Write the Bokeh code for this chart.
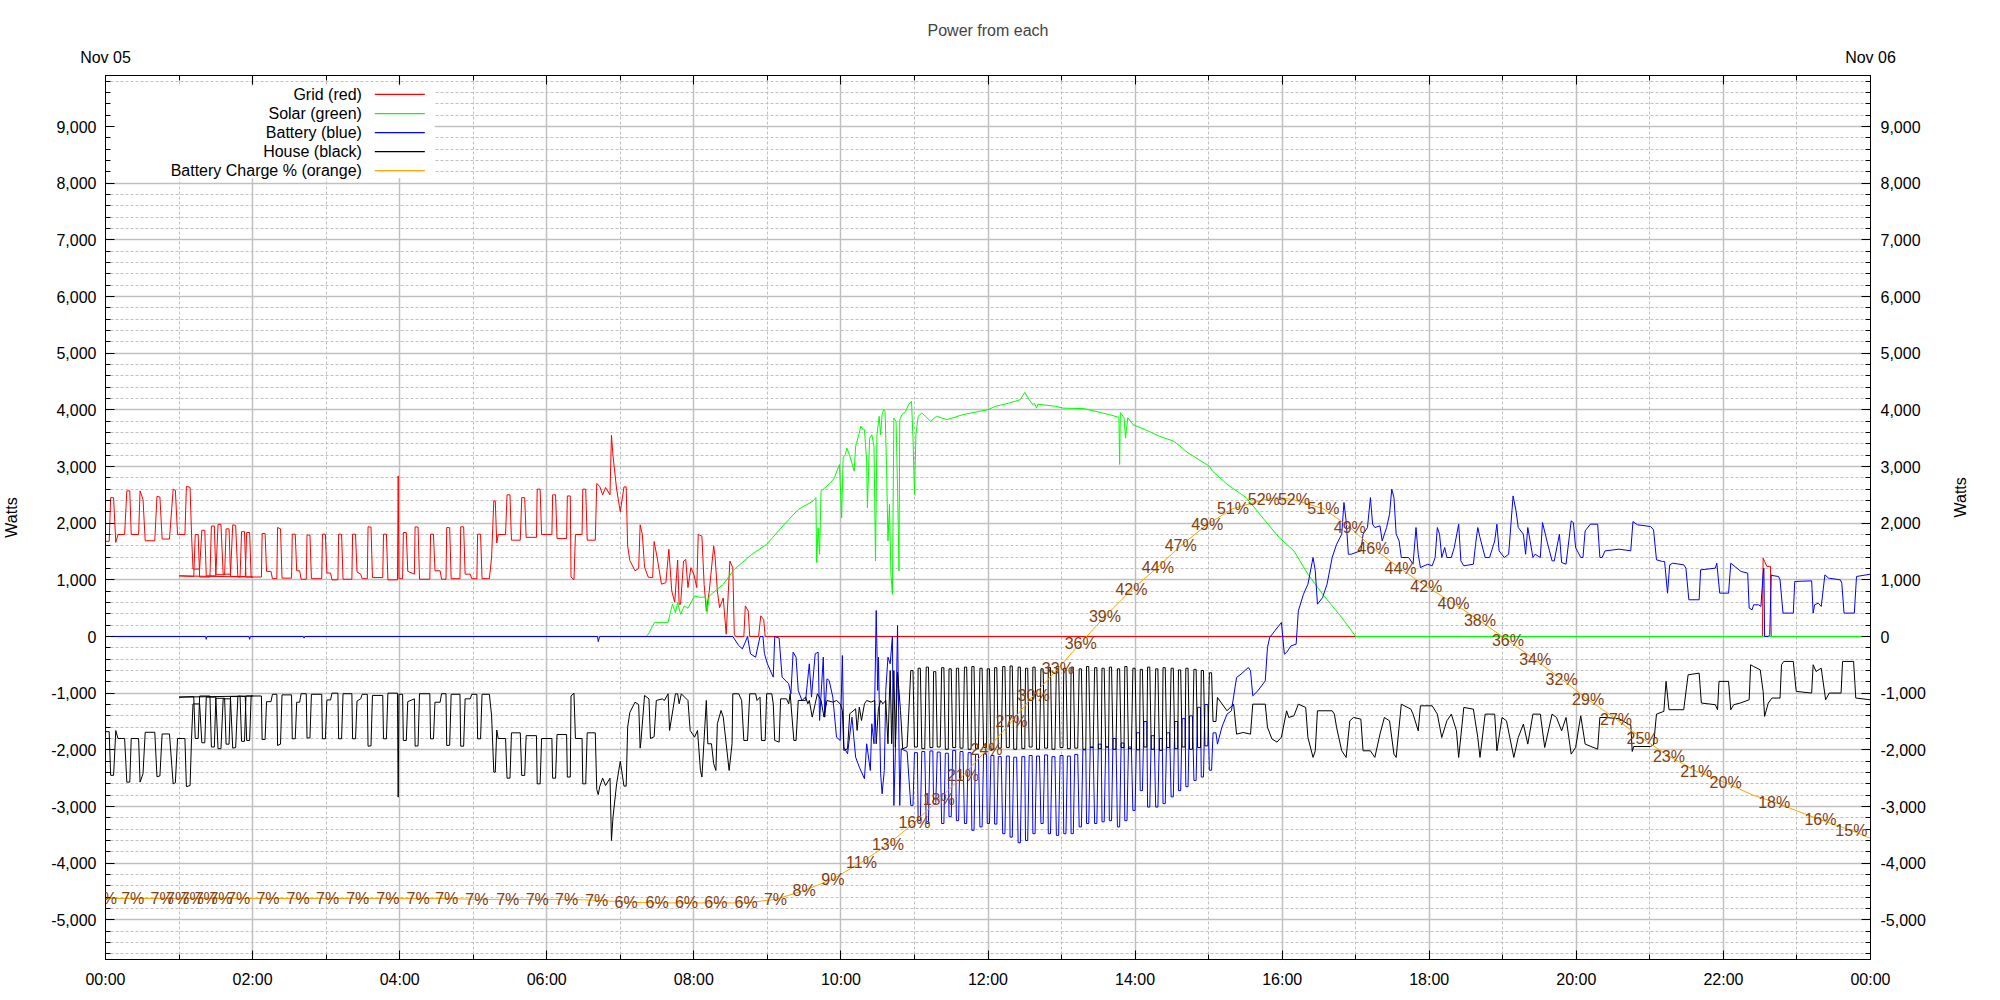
import math
from bokeh.plotting import figure
from bokeh.models import Range1d, LinearAxis, FixedTicker, NumeralTickFormatter, LabelSet, ColumnDataSource
from bokeh.core.properties import value
from bokeh.embed import file_html
from bokeh.resources import INLINE

FONT = "Liberation Sans"

# ---------------- data (time in hours since Nov 05 00:00, values in watts) ----------------
# DST ended this night: the 01:00-02:00 hour appears twice (jump back at 02:00)
grid = [
    (0.00, 1680), (0.05, 1680), (0.07, 2450), (0.11, 2450), (0.14, 1660), (0.17, 1800), (0.26, 1800),
    (0.29, 2570), (0.33, 2570), (0.35, 1800), (0.45, 1800), (0.47, 2570), (0.51, 2420), (0.54, 1690),
    (0.67, 1690), (0.70, 2475), (0.74, 2460), (0.77, 1720), (0.87, 1720), (0.92, 2600), (0.95, 2580),
    (0.98, 1800), (1.08, 1800), (1.10, 2650), (1.15, 2630), (1.17, 1800), (1.19, 1190), (1.28, 1190),
    (1.31, 1875), (1.35, 1875), (1.37, 1070), (1.50, 1070), (1.53, 1980), (1.57, 1980), (1.60, 1100),
    (1.70, 1100), (1.73, 1970), (1.77, 1960), (1.80, 1050), (1.90, 1060), (1.92, 1835), (1.96, 1835),
    (1.98, 1050), (2.00, 1050),
    (1.00, 1070), (1.20, 1060), (1.22, 1800), (1.26, 1800), (1.28, 1050), (1.42, 1050), (1.44, 1950),
    (1.48, 1950), (1.50, 1090), (1.62, 1090), (1.64, 1900), (1.68, 1900), (1.70, 1060), (1.83, 1060),
    (1.85, 1850), (1.89, 1850), (1.91, 1050), (2.12, 1050),
    (2.13, 1817), (2.17, 1817), (2.19, 1150), (2.25, 1150), (2.27, 1020), (2.33, 1020), (2.34, 1923),
    (2.38, 1900), (2.40, 1030), (2.53, 1030), (2.54, 1805), (2.58, 1805), (2.60, 1160), (2.64, 1160),
    (2.66, 1010), (2.73, 1010), (2.74, 1790), (2.78, 1790), (2.80, 1020), (2.94, 1020), (2.95, 1805),
    (2.99, 1805), (3.01, 1120), (3.06, 1120), (3.08, 1000), (3.16, 1000), (3.17, 1805), (3.21, 1805),
    (3.23, 1010), (3.35, 1010), (3.36, 1805), (3.40, 1805), (3.42, 1140), (3.47, 1100), (3.49, 1020),
    (3.56, 1020), (3.57, 1935), (3.61, 1930), (3.63, 1040), (3.77, 1040), (3.78, 1805), (3.82, 1805),
    (3.84, 1000), (3.97, 1000), (3.98, 2835), (3.99, 1020), (4.04, 1020), (4.05, 1835), (4.09, 1835),
    (4.11, 1150), (4.20, 1100), (4.21, 1935), (4.25, 1930), (4.27, 1010), (4.41, 1010), (4.42, 1805),
    (4.46, 1805), (4.48, 1160), (4.55, 1160), (4.57, 1010), (4.63, 1010), (4.64, 1923), (4.68, 1920),
    (4.70, 1020), (4.82, 1020), (4.83, 1935), (4.87, 1935), (4.89, 1100), (4.96, 1100), (4.98, 1020),
    (5.05, 1020), (5.06, 1805), (5.10, 1805), (5.12, 1020), (5.22, 1020), (5.25, 1400), (5.28, 2394),
    (5.30, 2394), (5.32, 1650), (5.34, 1800), (5.44, 1800), (5.46, 2500), (5.50, 2500), (5.52, 1700),
    (5.64, 1700), (5.66, 2452), (5.70, 2450), (5.72, 1750), (5.86, 1750), (5.87, 2600), (5.91, 2600),
    (5.93, 1800), (6.07, 1800), (6.08, 2500), (6.12, 2500), (6.14, 1730), (6.27, 1730), (6.28, 2480),
    (6.32, 2480), (6.33, 1050), (6.37, 1000), (6.39, 1800), (6.48, 1800), (6.49, 2600), (6.53, 2600),
    (6.55, 1700), (6.66, 1700), (6.68, 2700), (6.72, 2650), (6.76, 2500), (6.80, 2630), (6.86, 2500),
    (6.88, 3550), (6.90, 3200), (6.95, 2600), (7.00, 2200), (7.05, 2640), (7.08, 2640), (7.10, 1600),
    (7.13, 1340), (7.20, 1160), (7.25, 1200), (7.27, 1970), (7.30, 1800), (7.33, 1223), (7.38, 1047),
    (7.44, 1040), (7.46, 1676), (7.50, 1400), (7.56, 923), (7.62, 950), (7.66, 1540), (7.70, 800),
    (7.74, 605), (7.78, 1350), (7.80, 570), (7.82, 570), (7.86, 1330), (7.89, 1360), (7.92, 863),
    (7.96, 1215), (8.00, 1100), (8.04, 863), (8.06, 1800), (8.11, 1770), (8.14, 920), (8.17, 450),
    (8.21, 800), (8.27, 1600), (8.29, 1390), (8.32, 800), (8.35, 510), (8.40, 680), (8.44, 40),
    (8.49, 1330), (8.53, 1215), (8.55, 40), (8.57, 0), (8.68, 0), (8.70, 540), (8.74, 450), (8.76, 0),
    (8.88, 0), (8.91, 364), (8.95, 300), (8.97, 0), (22.53, 0), (22.54, 1383), (22.56, 1326),
    (22.59, 1238), (22.64, 1238), (22.65, 0), (24.00, 0),
]

solar = [
    (7.30, 0), (7.35, 0), (7.39, 60), (7.44, 190), (7.47, 250), (7.65, 250), (7.68, 420), (7.71, 570),
    (7.75, 420), (7.78, 600), (7.82, 393), (7.87, 540), (7.92, 500), (8.01, 716), (8.09, 690),
    (8.16, 700), (8.18, 423), (8.21, 716), (8.40, 922), (8.55, 1186), (8.79, 1450), (8.99, 1626),
    (9.23, 1978), (9.42, 2242), (9.62, 2389), (9.66, 2450), (9.67, 1303), (9.69, 1920), (9.71, 1450),
    (9.73, 2565), (9.86, 2712), (9.91, 2800), (9.98, 3035), (10.01, 2095), (10.03, 3152), (10.06, 3210),
    (10.08, 3328), (10.13, 3152), (10.18, 2917), (10.20, 3358), (10.25, 3592), (10.27, 3710),
    (10.30, 3650), (10.32, 3650), (10.35, 3094), (10.36, 2272), (10.39, 3500), (10.42, 3560),
    (10.45, 3358), (10.47, 1332), (10.49, 3560), (10.52, 3886), (10.54, 3560), (10.56, 3915),
    (10.58, 4003), (10.60, 3974), (10.62, 3035), (10.64, 1685), (10.66, 2330), (10.68, 1098),
    (10.70, 745), (10.72, 3856), (10.75, 3798), (10.77, 2620), (10.79, 1156), (10.80, 3827),
    (10.83, 3915), (10.88, 3974), (10.92, 4091), (10.94, 4120), (10.96, 4150), (10.98, 3500),
    (11.00, 2506), (11.02, 3560), (11.05, 3886), (11.10, 3945), (11.15, 3886), (11.22, 3798),
    (11.30, 3886), (11.37, 3856), (11.44, 3827), (11.66, 3915), (12.00, 4003), (12.10, 4062),
    (12.29, 4120), (12.44, 4180), (12.50, 4308), (12.56, 4180), (12.61, 4090), (12.63, 4120),
    (12.66, 4030), (12.68, 4100), (12.92, 4062), (13.02, 4030), (13.31, 4021), (13.41, 3990),
    (13.65, 3915), (13.78, 3868), (13.79, 3035), (13.80, 3950), (13.85, 3860), (13.87, 3500),
    (13.90, 3860), (13.97, 3739), (14.14, 3650), (14.33, 3534), (14.53, 3445), (14.72, 3240),
    (15.01, 3005), (15.05, 2922), (15.25, 2687), (15.51, 2452), (15.77, 2040), (15.96, 1746),
    (16.16, 1511), (16.35, 1100), (16.55, 747), (16.81, 335), (17.00, 0), (24.00, 0),
]

battery = [
    (0.00, 0), (1.36, 0), (1.37, -50), (1.38, 0), (1.95, 0), (1.96, -50), (1.97, 0), (2.69, 0),
    (2.70, -30), (2.71, 0), (6.69, 0), (6.70, -90), (6.72, 0), (8.53, 0), (8.61, -159), (8.66, -218),
    (8.70, -100), (8.73, 0), (8.77, -306), (8.84, -365), (8.90, 0), (8.94, 0), (8.96, -300),
    (9.00, -482), (9.08, -717), (9.10, 0), (9.16, -30), (9.20, -717), (9.29, -835), (9.32, -1011),
    (9.35, -276), (9.39, -365), (9.42, -953), (9.47, -1129), (9.52, -1129), (9.57, -482), (9.60, -1070),
    (9.65, -306), (9.69, -276), (9.71, -1482), (9.76, -365), (9.78, -1423), (9.81, -747), (9.84, -776),
    (9.89, -1070), (9.94, -1776), (9.99, -1835), (10.02, -335), (10.04, -1952), (10.09, -2070),
    (10.15, -1423), (10.20, -2129), (10.25, -2305), (10.32, -2510), (10.35, -1893), (10.40, -2364),
    (10.42, -1540), (10.45, -1893), (10.48, 459), (10.50, -952), (10.51, -365), (10.54, -2423),
    (10.56, -2775), (10.59, -2364), (10.61, -952), (10.64, -365), (10.67, -482), (10.70, 0),
    (10.72, -2981), (10.74, -2070), (10.77, 194), (10.80, -2981), (10.82, -1982), (10.90, -2030),
    (10.95, -2980), (10.98, -2980), (11.00, -2050), (11.04, -2050),
    (11.05, -3250), (11.08, -3250), (11.10, -2030), (11.14, -2030),
    (11.16, -3300), (11.19, -3300), (11.21, -2020), (11.25, -2020),
    (11.26, -2950), (11.29, -2950), (11.31, -2040), (11.35, -2040),
    (11.37, -3300), (11.40, -3300), (11.42, -2060), (11.46, -2060),
    (11.47, -3180), (11.50, -3180), (11.52, -2010), (11.56, -2010),
    (11.57, -3250), (11.60, -3250), (11.62, -2030), (11.66, -2030),
    (11.68, -3300), (11.71, -3300), (11.73, -2050), (11.77, -2050),
    (11.78, -3420), (11.81, -3420), (11.83, -2080), (11.87, -2080),
    (11.89, -3360), (11.92, -3360), (11.94, -2070), (11.98, -2070),
    (11.99, -3300), (12.02, -3300), (12.04, -2100), (12.08, -2100),
    (12.09, -3310), (12.12, -3310), (12.14, -2120), (12.18, -2120),
    (12.20, -3480), (12.23, -3480), (12.25, -2110), (12.29, -2110),
    (12.30, -3540), (12.33, -3540), (12.35, -2130), (12.39, -2130),
    (12.41, -3640), (12.44, -3640), (12.46, -2120), (12.50, -2120),
    (12.51, -3600), (12.54, -3600), (12.56, -2100), (12.60, -2100),
    (12.61, -3480), (12.64, -3480), (12.66, -2110), (12.70, -2110),
    (12.72, -3300), (12.75, -3300), (12.77, -2090), (12.81, -2090),
    (12.82, -3480), (12.85, -3480), (12.87, -2120), (12.91, -2120),
    (12.93, -3510), (12.96, -3510), (12.98, -2100), (13.02, -2100),
    (13.03, -3480), (13.06, -3480), (13.08, -2110), (13.12, -2110),
    (13.13, -3480), (13.16, -3480), (13.18, -2080), (13.22, -2080),
    (13.24, -3360), (13.27, -3360), (13.29, -2000), (13.33, -2000),
    (13.34, -3300), (13.37, -3300), (13.39, -1950), (13.43, -1950),
    (13.45, -3300), (13.48, -3300), (13.50, -1900), (13.54, -1900),
    (13.55, -3270), (13.58, -3270), (13.60, -1950), (13.64, -1950),
    (13.65, -3250), (13.68, -3250), (13.70, -1800), (13.74, -1800),
    (13.76, -3360), (13.79, -3360), (13.81, -1880), (13.85, -1880),
    (13.86, -3250), (13.89, -3250), (13.91, -1950), (13.95, -1950),
    (13.97, -3070), (14.00, -3070), (14.02, -1700), (14.06, -1700),
    (14.07, -2720), (14.10, -2720), (14.12, -1500), (14.16, -1500),
    (14.17, -3010), (14.20, -3010), (14.22, -1750), (14.26, -1750),
    (14.28, -3010), (14.31, -3010), (14.33, -1800), (14.37, -1800),
    (14.38, -2950), (14.41, -2950), (14.43, -1700), (14.47, -1700),
    (14.49, -2830), (14.52, -2830), (14.54, -1500), (14.58, -1500),
    (14.59, -2720), (14.62, -2720), (14.64, -1450), (14.68, -1450),
    (14.69, -2650), (14.72, -2650), (14.74, -1400), (14.78, -1400),
    (14.80, -2540), (14.83, -2540), (14.85, -1250), (14.89, -1250),
    (14.90, -2480), (14.93, -2480), (14.95, -1200), (14.99, -1200),
    (15.01, -2360), (15.04, -2360), (15.06, -1700), (15.10, -1700),
    (15.12, -1900), (15.18, -1600), (15.25, -1370), (15.31, -1311), (15.38, -723), (15.44, -664),
    (15.54, -547), (15.57, -605), (15.60, -1047), (15.67, -958), (15.77, -782), (15.80, -194),
    (15.83, -18), (15.90, 100), (15.99, 247), (16.03, -312), (16.06, -282), (16.12, -165),
    (16.19, -135), (16.22, 453), (16.29, 747), (16.35, 923), (16.42, 1394), (16.45, 1160),
    (16.48, 570), (16.55, 688), (16.61, 923), (16.68, 1394), (16.74, 1629), (16.81, 1805),
    (16.84, 2364), (16.87, 2040), (16.90, 1452), (16.94, 1452), (17.00, 1482), (17.07, 1511),
    (17.10, 1805), (17.16, 1923), (17.20, 2452), (17.23, 1982), (17.26, 1923), (17.33, 1952),
    (17.36, 1687), (17.42, 1923), (17.46, 2158), (17.49, 2599), (17.52, 2452), (17.55, 1805),
    (17.59, 1687), (17.62, 1394), (17.72, 1394), (17.78, 1276), (17.82, 1923), (17.85, 1452),
    (17.88, 1217), (17.98, 1276), (18.04, 1247), (18.08, 1394), (18.11, 1923), (18.14, 1805),
    (18.17, 1394), (18.21, 1570), (18.24, 1394), (18.30, 1394), (18.34, 1570), (18.40, 1982),
    (18.43, 1335), (18.47, 1247), (18.60, 1276), (18.63, 1629), (18.66, 1923), (18.69, 1746),
    (18.76, 1394), (18.82, 1394), (18.89, 1687), (18.92, 1982), (18.95, 1511), (19.02, 1394),
    (19.08, 1452), (19.14, 2481), (19.18, 2217), (19.21, 1923), (19.28, 1805), (19.31, 1452),
    (19.34, 1923), (19.41, 1394), (19.44, 1452), (19.51, 1394), (19.54, 2011), (19.60, 1687),
    (19.67, 1335), (19.70, 1335), (19.77, 1805), (19.80, 1305), (19.86, 1276), (19.93, 2040),
    (19.96, 2011), (19.99, 1570), (20.06, 1394), (20.09, 1394), (20.12, 1864), (20.19, 1982),
    (20.29, 1982), (20.32, 1394), (20.35, 1394), (20.39, 1511), (20.58, 1541), (20.74, 1512),
    (20.77, 2029), (20.83, 1971), (21.01, 1941), (21.05, 1882), (21.09, 1353), (21.17, 1324),
    (21.20, 1324), (21.24, 765), (21.27, 1265), (21.31, 1294), (21.46, 1265), (21.49, 1206),
    (21.53, 648), (21.67, 648), (21.69, 1176), (21.89, 1206), (21.91, 1294), (21.95, 765),
    (22.07, 765), (22.10, 1294), (22.24, 1147), (22.33, 1118), (22.35, 501), (22.39, 471),
    (22.41, 559), (22.48, 559), (22.51, 530), (22.54, 1118), (22.55, 1206), (22.56, 0), (22.61, 0),
    (22.63, 30), (22.65, 1088), (22.66, 1077), (22.75, 1059), (22.77, 1000), (22.81, 413),
    (22.95, 413), (22.97, 971), (23.20, 982), (23.22, 413), (23.24, 559), (23.29, 589), (23.33, 530),
    (23.38, 1088), (23.43, 1030), (23.59, 1000), (23.61, 941), (23.64, 413), (23.78, 413),
    (23.81, 1059), (24.00, 1100),
]

house = [
    (0.00, -1680), (0.05, -1680), (0.07, -2450), (0.11, -2450), (0.14, -1660), (0.17, -1800),
    (0.26, -1800), (0.29, -2570), (0.33, -2570), (0.35, -1800), (0.45, -1800), (0.47, -2570),
    (0.51, -2420), (0.54, -1690), (0.67, -1690), (0.70, -2475), (0.74, -2460), (0.77, -1720),
    (0.87, -1720), (0.92, -2600), (0.95, -2580), (0.98, -1800), (1.08, -1800), (1.10, -2650),
    (1.15, -2630), (1.17, -1800), (1.19, -1190), (1.28, -1190), (1.31, -1875), (1.35, -1875),
    (1.37, -1070), (1.50, -1070), (1.53, -1980), (1.57, -1980), (1.60, -1100), (1.70, -1100),
    (1.73, -1970), (1.77, -1960), (1.80, -1050), (1.90, -1060), (1.92, -1835), (1.96, -1835),
    (1.98, -1050), (2.00, -1050),
    (1.00, -1070), (1.20, -1060), (1.22, -1800), (1.26, -1800), (1.28, -1050), (1.42, -1050),
    (1.44, -1950), (1.48, -1950), (1.50, -1090), (1.62, -1090), (1.64, -1900), (1.68, -1900),
    (1.70, -1060), (1.83, -1060), (1.85, -1850), (1.89, -1850), (1.91, -1050), (2.12, -1050),
    (2.13, -1817), (2.17, -1817), (2.19, -1150), (2.25, -1150), (2.27, -1020), (2.33, -1020),
    (2.34, -1923), (2.38, -1900), (2.40, -1030), (2.53, -1030), (2.54, -1805), (2.58, -1805),
    (2.60, -1160), (2.64, -1160), (2.66, -1010), (2.73, -1010), (2.74, -1790), (2.78, -1790),
    (2.80, -1020), (2.94, -1020), (2.95, -1805), (2.99, -1805), (3.01, -1120), (3.06, -1120),
    (3.08, -1000), (3.16, -1000), (3.17, -1805), (3.21, -1805), (3.23, -1010), (3.35, -1010),
    (3.36, -1805), (3.40, -1805), (3.42, -1140), (3.47, -1100), (3.49, -1020), (3.56, -1020),
    (3.57, -1935), (3.61, -1930), (3.63, -1040), (3.77, -1040), (3.78, -1805), (3.82, -1805),
    (3.84, -1000), (3.97, -1000), (3.98, -2835), (3.99, -1020), (4.04, -1020), (4.05, -1835),
    (4.09, -1835), (4.11, -1150), (4.20, -1100), (4.21, -1935), (4.25, -1930), (4.27, -1010),
    (4.41, -1010), (4.42, -1805), (4.46, -1805), (4.48, -1160), (4.55, -1160), (4.57, -1010),
    (4.63, -1010), (4.64, -1923), (4.68, -1920), (4.70, -1020), (4.82, -1020), (4.83, -1935),
    (4.87, -1935), (4.89, -1100), (4.96, -1100), (4.98, -1020), (5.05, -1020), (5.06, -1805),
    (5.10, -1805), (5.12, -1020), (5.22, -1020), (5.25, -1400), (5.28, -2394), (5.30, -2394),
    (5.32, -1650), (5.34, -1800), (5.44, -1800), (5.46, -2500), (5.50, -2500), (5.52, -1700),
    (5.64, -1700), (5.66, -2452), (5.70, -2450), (5.72, -1750), (5.86, -1750), (5.87, -2600),
    (5.91, -2600), (5.93, -1800), (6.07, -1800), (6.08, -2500), (6.12, -2500), (6.14, -1730),
    (6.27, -1730), (6.28, -2480), (6.32, -2480), (6.33, -1050), (6.37, -1000), (6.39, -1800),
    (6.48, -1800), (6.49, -2600), (6.53, -2600), (6.55, -1700), (6.66, -1700), (6.68, -2700),
    (6.70, -2790), (6.72, -2650), (6.76, -2500), (6.80, -2630), (6.86, -2500), (6.88, -3600),
    (6.90, -3200), (6.95, -2600), (7.00, -2200), (7.05, -2640), (7.08, -2640), (7.10, -1600),
    (7.13, -1340), (7.20, -1160), (7.25, -1200), (7.27, -1970),
    (7.28, -1864), (7.33, -1041), (7.39, -1100), (7.41, -1800), (7.46, -1770), (7.49, -1129),
    (7.57, -1100), (7.60, -1129), (7.65, -1011), (7.67, -1658), (7.75, -1011), (7.78, -1011),
    (7.80, -1188), (7.83, -1011), (7.92, -1129), (7.95, -1658), (8.01, -1776), (8.05, -1658),
    (8.09, -2364), (8.11, -2481), (8.17, -1129), (8.19, -1893), (8.24, -1893), (8.27, -2246),
    (8.30, -2364), (8.32, -1540), (8.37, -1305), (8.40, -1423), (8.48, -2364), (8.52, -1893),
    (8.53, -1011), (8.61, -1011), (8.65, -1129), (8.68, -1835), (8.73, -1835), (8.76, -1011),
    (8.84, -1011), (8.86, -1129), (8.90, -1070), (8.92, -1835), (8.97, -1835), (8.99, -1011),
    (9.06, -1011), (9.08, -1188), (9.10, -1835), (9.16, -1864), (9.18, -1100), (9.26, -1100),
    (9.29, -1188), (9.31, -1011), (9.36, -1835), (9.39, -1835), (9.42, -1129), (9.47, -1129),
    (9.52, -1070), (9.55, -1188), (9.57, -1129), (9.61, -1423), (9.65, -1188), (9.68, -1011),
    (9.73, -1129), (9.77, -1423), (9.81, -1129), (9.89, -1158), (9.94, -1129), (9.99, -1188),
    (10.02, -1305), (10.04, -2011), (10.09, -1982), (10.12, -1364), (10.20, -1276), (10.22, -1658),
    (10.25, -1246), (10.28, -1482), (10.32, -1188), (10.35, -1129), (10.41, -1158), (10.46, -1129),
    (10.48, -1893), (10.51, -1276), (10.54, -1129), (10.57, -1188), (10.61, -1129), (10.64, -1893),
    (10.67, -600), (10.69, -1893), (10.72, -600), (10.74, -1952), (10.77, -630), (10.81, -1305),
    (10.84, -1982), (10.90, -1950),
    (10.95, -600), (10.98, -600), (11.00, -1950), (11.04, -1950),
    (11.05, -560), (11.08, -560), (11.10, -1980), (11.14, -1980),
    (11.16, -540), (11.19, -540), (11.21, -1960), (11.25, -1960),
    (11.26, -620), (11.29, -620), (11.31, -1950), (11.35, -1950),
    (11.37, -550), (11.40, -550), (11.42, -1990), (11.46, -1990),
    (11.47, -570), (11.50, -570), (11.52, -1960), (11.56, -1960),
    (11.57, -560), (11.60, -560), (11.62, -1970), (11.66, -1970),
    (11.68, -540), (11.71, -540), (11.73, -1990), (11.77, -1990),
    (11.78, -530), (11.81, -530), (11.83, -1980), (11.87, -1980),
    (11.89, -560), (11.92, -560), (11.94, -1960), (11.98, -1960),
    (11.99, -570), (12.02, -570), (12.04, -1990), (12.08, -1990),
    (12.09, -550), (12.12, -550), (12.14, -1970), (12.18, -1970),
    (12.20, -530), (12.23, -530), (12.25, -1960), (12.29, -1960),
    (12.30, -520), (12.33, -520), (12.35, -1990), (12.39, -1990),
    (12.41, -540), (12.44, -540), (12.46, -1980), (12.50, -1980),
    (12.51, -560), (12.54, -560), (12.56, -1950), (12.60, -1950),
    (12.61, -540), (12.64, -540), (12.66, -1990), (12.70, -1990),
    (12.72, -570), (12.75, -570), (12.77, -1970), (12.81, -1970),
    (12.82, -550), (12.85, -550), (12.87, -1990), (12.91, -1990),
    (12.93, -530), (12.96, -530), (12.98, -1960), (13.02, -1960),
    (13.03, -560), (13.06, -560), (13.08, -1980), (13.12, -1980),
    (13.13, -540), (13.16, -540), (13.18, -1970), (13.22, -1970),
    (13.24, -570), (13.27, -570), (13.29, -1990), (13.33, -1990),
    (13.34, -530), (13.37, -530), (13.39, -1960), (13.43, -1960),
    (13.45, -550), (13.48, -550), (13.50, -1980), (13.54, -1980),
    (13.55, -560), (13.58, -560), (13.60, -1950), (13.64, -1950),
    (13.65, -540), (13.68, -540), (13.70, -1990), (13.74, -1990),
    (13.76, -570), (13.79, -570), (13.81, -1960), (13.85, -1960),
    (13.86, -530), (13.89, -530), (13.91, -1980), (13.95, -1980),
    (13.97, -560), (14.00, -560), (14.02, -2000), (14.06, -2000),
    (14.07, -580), (14.10, -580), (14.12, -1950), (14.16, -1950),
    (14.17, -540), (14.20, -540), (14.22, -1990), (14.26, -1990),
    (14.28, -570), (14.31, -570), (14.33, -2010), (14.37, -2010),
    (14.38, -550), (14.41, -550), (14.43, -1960), (14.47, -1960),
    (14.49, -560), (14.52, -560), (14.54, -1980), (14.58, -1980),
    (14.59, -590), (14.62, -590), (14.64, -1950), (14.68, -1950),
    (14.69, -560), (14.72, -560), (14.74, -1990), (14.78, -1990),
    (14.80, -580), (14.83, -580), (14.85, -1960), (14.89, -1960),
    (14.90, -600), (14.93, -600), (14.95, -1930), (14.99, -1930),
    (15.01, -640), (15.04, -640), (15.06, -1500), (15.10, -1500),
    (15.12, -1076), (15.25, -1311), (15.34, -1194), (15.38, -1723), (15.47, -1694), (15.57, -1723),
    (15.60, -1194), (15.77, -1194), (15.80, -1600), (15.86, -1805), (15.93, -1864), (15.99, -1776),
    (16.06, -1311), (16.09, -1429), (16.16, -1399), (16.22, -1194), (16.32, -1252), (16.35, -1782),
    (16.42, -2134), (16.45, -2017), (16.48, -1311), (16.68, -1311), (16.71, -1370), (16.74, -1605),
    (16.81, -2017), (16.87, -2134), (16.92, -1488), (16.97, -1429), (17.07, -1458), (17.10, -2017),
    (17.20, -2017), (17.23, -2076), (17.26, -2134), (17.33, -1723), (17.39, -1429), (17.46, -1488),
    (17.52, -2076), (17.55, -2134), (17.62, -1194), (17.75, -1282), (17.78, -1370), (17.85, -1664),
    (17.88, -1223), (18.04, -1223), (18.11, -1370), (18.17, -1782), (18.24, -1488), (18.30, -1370),
    (18.37, -1664), (18.40, -2134), (18.47, -1252), (18.60, -1282), (18.66, -1782), (18.69, -2134),
    (18.76, -1370), (18.89, -1370), (18.92, -2017), (18.99, -1429), (19.05, -1488), (19.15, -2134),
    (19.21, -1782), (19.28, -1546), (19.34, -1899), (19.41, -1370), (19.51, -1370), (19.57, -1958),
    (19.67, -1370), (19.73, -1429), (19.80, -1664), (19.86, -1429), (19.93, -2076), (19.99, -1958),
    (20.06, -1399), (20.12, -1899), (20.29, -1988), (20.32, -1429), (20.39, -1429), (20.58, -1450),
    (20.72, -1557), (20.74, -1557), (20.76, -2029), (20.78, -1941), (21.01, -1941), (21.05, -1912),
    (21.09, -1370), (21.19, -1321), (21.22, -792), (21.26, -1292), (21.46, -1292), (21.52, -676),
    (21.67, -647), (21.70, -1174), (21.89, -1204), (21.92, -1292), (21.94, -792), (22.07, -792),
    (22.10, -1292), (22.14, -1204), (22.23, -1174), (22.35, -1117), (22.37, -499), (22.41, -529),
    (22.50, -588), (22.54, -969), (22.56, -1410), (22.61, -1174), (22.66, -1086), (22.77, -1086),
    (22.79, -499), (22.82, -440), (22.95, -440), (22.99, -969), (23.20, -998), (23.22, -499),
    (23.26, -617), (23.33, -559), (23.39, -1117), (23.44, -998), (23.60, -998), (23.62, -440),
    (23.77, -440), (23.80, -1086), (24.00, -1117),
]

# Battery charge (percent), with the label printed at each sample
charge_t = [0.00, 0.37, 0.77, 0.98, 1.18, 1.37, 1.57, 1.81, 2.21, 2.62, 3.02, 3.43, 3.84, 4.25,
            4.64, 5.05, 5.47, 5.87, 6.27, 6.68, 7.08, 7.50, 7.90, 8.30, 8.71, 9.11, 9.50, 9.89,
            10.28, 10.64, 11.00, 11.33, 11.66, 11.98, 12.32, 12.62, 12.95, 13.26, 13.59, 13.95,
            14.31, 14.62, 14.98, 15.33, 15.75, 15.95, 16.16, 16.56, 16.92, 17.24, 17.61, 17.96,
            18.33, 18.69, 19.07, 19.44, 19.80, 20.16, 20.54, 20.90, 21.26, 21.63, 22.03, 22.40,
            22.69, 23.32, 23.74, 24.00]
charge_pct = [6.9, 6.9, 6.9, 6.9, 6.9, 6.9, 6.9, 6.9, 6.9, 6.9, 6.9, 6.9, 6.9, 6.9,
              6.9, 6.8, 6.8, 6.8, 6.8, 6.7, 6.5, 6.4, 6.4, 6.4, 6.4, 6.8, 7.8, 9.1,
              11.0, 13.0, 15.5, 18.1, 20.8, 23.7, 26.9, 29.9, 32.9, 35.8, 38.8, 41.8,
              44.4, 46.8, 49.2, 51.0, 52.0, 52.3, 52.0, 51.0, 48.9, 46.5, 44.2, 42.2,
              40.3, 38.3, 36.1, 33.9, 31.7, 29.4, 27.2, 25.0, 23.0, 21.3, 20.0, 18.6,
              17.8, 15.8, 14.6, 13.7]
charge_label = ["7%", "7%", "7%", "7%", "7%", "7%", "7%", "7%", "7%", "7%", "7%", "7%", "7%", "7%",
                "7%", "7%", "7%", "7%", "7%", "7%", "6%", "6%", "6%", "6%", "6%", "7%", "8%", "9%",
                "11%", "13%", "16%", "18%", "21%", "24%", "27%", "30%", "33%", "36%", "39%", "42%",
                "44%", "47%", "49%", "51%", "52%", "", "52%", "51%", "49%", "46%", "44%", "42%",
                "40%", "38%", "36%", "34%", "32%", "29%", "27%", "25%", "23%", "21%", "20%", "",
                "18%", "16%", "15%", ""]

x_ticks = [0, 2, 4, 6, 8, 10, 12, 14, 16, 18, 20, 22, 24]
x_tick_labels = ["00:00", "02:00", "04:00", "06:00", "08:00", "10:00", "12:00", "14:00",
                 "16:00", "18:00", "20:00", "22:00", "00:00"]
x_minor = [1, 3, 5, 7, 9, 11, 13, 15, 17, 19, 21, 23]
top_labels = {0: "Nov 05", 24: "Nov 06"}
y_ticks = [-5000, -4000, -3000, -2000, -1000, 0, 1000, 2000, 3000, 4000, 5000, 6000, 7000, 8000, 9000]
y_minor = [v for v in range(-5600, 9801, 200) if v % 1000 != 0]

series_names = ["Grid (red)", "Solar (green)", "Battery (blue)", "House (black)", "Battery Charge % (orange)"]
series_colors = ["#ff0000", "#00ff00", "#0000ff", "#000000", "#ffa500"]
LABEL_COLOR = "#804014"

# ---------------- figure ----------------
p = figure(width=1995, height=995, output_backend="svg", toolbar_location=None,
           x_range=Range1d(0, 24), y_range=Range1d(-5700, 9900),
           min_border_left=105, min_border_right=125, min_border_top=75, min_border_bottom=36,
           background_fill_color="white", border_fill_color="white")
p.extra_y_ranges = {"pct": Range1d(0, 100)}

p.title.text = "Power from each"
p.title.align = "center"
p.title.text_font = FONT
p.title.text_font_size = "16px"
p.title.text_font_style = "normal"
p.title.standoff = 13

bottom_axis = p.below[0]
left_axis = p.left[0]

xticker = FixedTicker(ticks=x_ticks, minor_ticks=x_minor)
yticker = FixedTicker(ticks=y_ticks, minor_ticks=y_minor)
yfmt = NumeralTickFormatter(format="0,0")

bottom_axis.ticker = xticker
bottom_axis.major_label_overrides = dict(zip(x_ticks, x_tick_labels))
left_axis.ticker = yticker
left_axis.formatter = yfmt
left_axis.axis_label = "Watts"
left_axis.axis_label_standoff = 28

top_axis = LinearAxis(ticker=xticker,
                      major_label_overrides={t: top_labels.get(t, "") for t in x_ticks})
right_axis = LinearAxis(ticker=yticker, formatter=yfmt, axis_label="Watts",
                        axis_label_standoff=32, axis_label_orientation=math.pi / 2)
p.add_layout(top_axis, "above")
p.add_layout(right_axis, "right")

for ax in [bottom_axis, left_axis, top_axis, right_axis]:
    ax.major_tick_in = 9
    ax.major_tick_out = 0
    ax.minor_tick_in = 5
    ax.minor_tick_out = 0
    ax.axis_line_color = "black"
    ax.major_tick_line_color = "black"
    ax.minor_tick_line_color = "black"
    ax.major_label_text_font = FONT
    ax.major_label_text_font_size = "16px"
    ax.major_label_text_color = "black"
    ax.axis_label_text_font = FONT
    ax.axis_label_text_font_size = "16px"
    ax.axis_label_text_font_style = "normal"
    ax.axis_label_text_color = "black"
bottom_axis.major_label_standoff = 11
top_axis.major_label_standoff = 10
left_axis.major_label_standoff = 9
right_axis.major_label_standoff = 10

for g in [p.xgrid[0], p.ygrid[0]]:
    g.grid_line_color = "#c0c0c0"
    g.grid_line_width = 1.5
    g.minor_grid_line_color = "#c0c0c0"
    g.minor_grid_line_width = 1
    g.minor_grid_line_dash = "3 2"
p.ygrid[0].ticker = yticker
p.xgrid[0].ticker = xticker

p.outline_line_color = "black"
p.outline_line_width = 1
p.outline_line_alpha = 1

# ---------------- legend box (gnuplot style: text then sample line) ----------------
LEG_RIGHT = 4.478
LEG_BOTTOM, LEG_TOP = 8085, 9725
leg_rows = [9566, 9226, 8891, 8556, 8220]
p.quad(left=[0], right=[LEG_RIGHT], bottom=[LEG_BOTTOM], top=[LEG_TOP],
       fill_color="white", line_color=None)
p.text(x=[3.486] * 5, y=leg_rows, text=series_names, text_align="right", text_baseline="middle",
       text_font=value(FONT), text_font_size="16px", text_color="black")
p.segment(x0=[3.662] * 5, x1=[4.342] * 5, y0=leg_rows, y1=leg_rows, line_color=series_colors,
          line_width=1.2)

# ---------------- series ----------------
for data, color in zip([grid, solar, battery, house], series_colors[:4]):
    xs = [d[0] for d in data]
    ys = [d[1] for d in data]
    p.line(xs, ys, line_color=color, line_width=1)

p.line(charge_t, charge_pct, y_range_name="pct", line_color=series_colors[4], line_width=1)
charge_src = ColumnDataSource(dict(t=charge_t, pct=charge_pct, label=charge_label))
p.add_layout(LabelSet(x="t", y="pct", text="label", source=charge_src, y_range_name="pct",
                      text_align="center", text_baseline="middle", text_color=LABEL_COLOR,
                      text_font=value(FONT), text_font_size="16px"))

open("out.html", "w").write(file_html(p, INLINE))
